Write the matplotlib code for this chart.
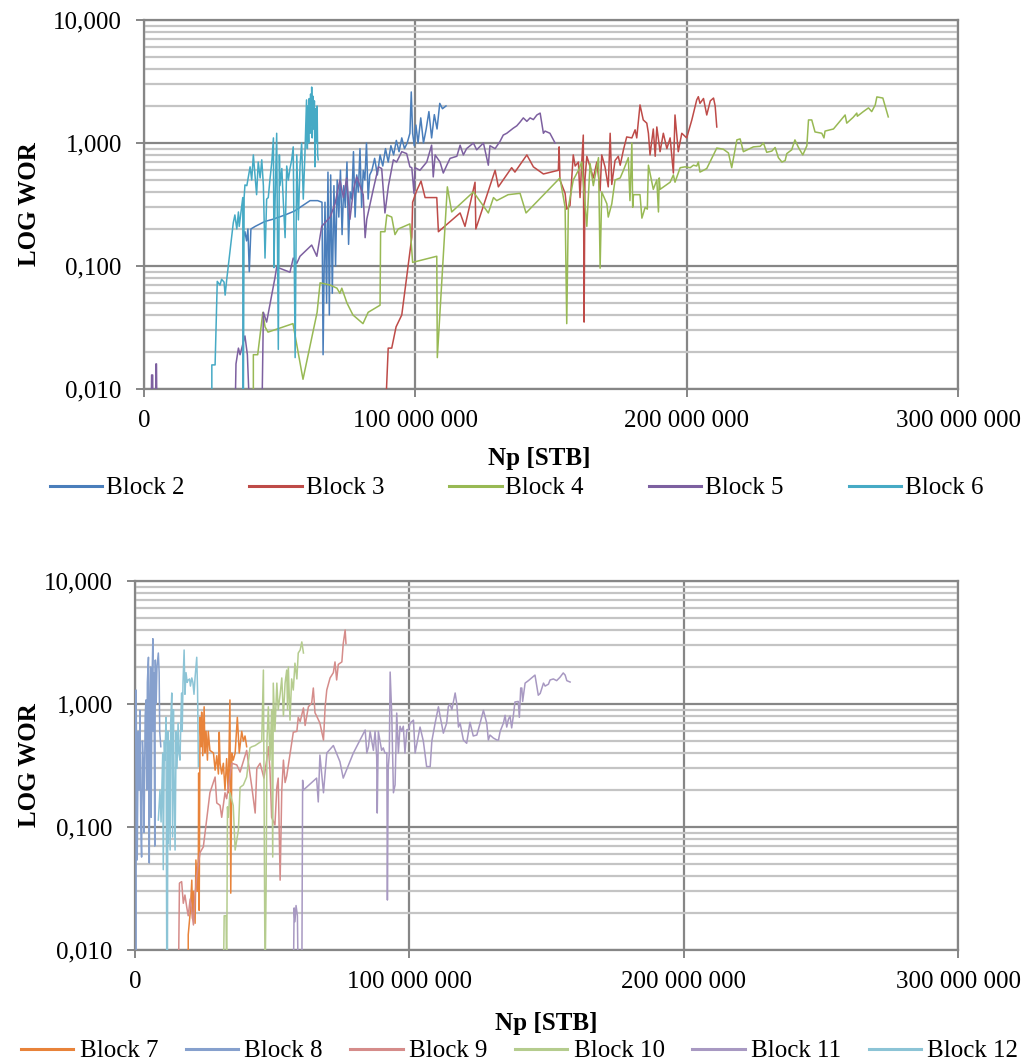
import numpy as np
import matplotlib
matplotlib.use("Agg")
import matplotlib.pyplot as plt
from matplotlib.ticker import LogLocator, FixedLocator, FuncFormatter, NullFormatter
from matplotlib.lines import Line2D

plt.rcParams["font.family"] = ["Liberation Serif", "DejaVu Serif"]

# Np in million STB, WOR values (0.005 = below axis floor)
b2_np = [36.5, 36.6, 37.2, 37.8, 38.3, 38.8, 39.4, 41.0, 44.5, 47.5, 52.0, 55.5, 61.2, 64.0, 65.6,
         66.0, 66.7, 67.3, 67.8, 68.3, 68.8, 69.4, 70.0, 70.6, 71.2, 71.8, 72.4, 73.0, 73.6, 74.2,
         74.8, 75.4, 76.0, 76.6, 77.2, 77.8, 78.4, 79.0, 79.6, 80.2, 80.8, 81.4, 82.0, 82.6, 83.2,
         84.0, 85.0, 86.0, 87.0, 88.0, 89.0, 90.0, 91.0, 92.0, 93.0, 94.0, 95.0, 96.0, 97.0, 98.0,
         98.5, 99.0, 99.6, 100.2, 101.0, 102.0, 103.0, 104.0, 105.0, 106.0, 107.0, 108.0, 109.0, 110.0, 111.3]
b2_wor = [0.005, 0.17, 0.19, 0.16, 0.20, 0.09, 0.20, 0.21, 0.23, 0.24, 0.26, 0.28, 0.34, 0.34, 0.33,
          0.019, 0.33, 0.05, 0.58, 0.04, 0.55, 0.06, 0.45, 0.10, 0.50, 0.25, 0.60, 0.18, 0.45, 0.30,
          0.70, 0.15, 0.40, 0.35, 0.85, 0.25, 0.55, 0.40, 0.90, 0.30, 0.60, 0.50, 1.00, 0.35, 0.55,
          0.60, 0.75, 0.55, 0.80, 0.65, 0.90, 0.70, 0.95, 0.80, 1.05, 0.85, 1.10, 0.90, 1.00, 1.20,
          2.6, 1.2, 0.95, 1.4, 1.0, 1.6, 1.0, 1.3, 1.8, 1.1, 1.7, 1.3, 2.1, 1.9, 2.0]

b3_np = [86.5, 88.8, 90.0, 91.3, 92.9, 95.0, 96.8, 98.7, 99.0, 100.5, 102.1, 103.6, 107.9, 108.5, 116.5,
         118.3, 122.0, 122.3, 129.4, 130.6, 135.5, 136.7, 141.1, 143.5, 147.2, 152.7, 153.0, 153.3, 155.2, 155.8,
         157.0, 158.2, 158.9, 160.1, 160.7, 161.3, 161.9, 162.2, 162.5, 163.2, 164.4, 165.6, 166.9, 168.1, 168.7,
         169.9, 171.1, 171.8, 172.4, 173.6, 174.8, 175.5, 176.7, 177.9, 179.8, 181.0, 181.6, 182.8, 184.0, 185.3,
         185.9, 186.5, 187.7, 188.4, 189.0, 190.2, 191.4, 192.7, 193.9, 195.1, 195.7, 196.9, 198.2, 200.0, 201.9,
         203.7, 204.3, 204.9, 206.2, 207.4, 208.7, 209.9, 210.5, 211.1]
b3_wor = [0.005, 0.005, 0.0215, 0.0215, 0.032, 0.04, 0.081, 0.172, 0.33, 0.41, 0.49, 0.36, 0.36, 0.19, 0.27,
          0.21, 0.48, 0.20, 0.60, 0.44, 0.63, 0.58, 0.80, 0.64, 0.56, 0.60, 0.93, 0.50, 0.39, 0.29,
          0.31, 0.80, 0.65, 0.70, 0.36, 0.68, 1.16, 0.035, 0.50, 0.78, 0.64, 0.52, 0.70, 0.41, 0.80,
          0.64, 0.44, 1.2, 0.46, 0.72, 0.78, 0.66, 0.88, 1.12, 1.1, 1.28, 1.1, 2.04, 1.54, 1.45,
          1.2, 0.8, 1.3, 0.78, 1.35, 0.85, 1.2, 0.9, 1.1, 0.57, 1.69, 0.85, 1.2, 1.1, 1.54,
          2.24, 2.38, 2.1, 2.3, 1.69, 2.2, 2.32, 2.0, 1.35]

b4_np = [40.3, 40.3, 41.9, 43.8, 44.6, 45.7, 54.9, 58.6, 63.8, 64.9, 68.6, 71.1, 72.2, 72.9, 74.8,
         77.0, 80.7, 82.6, 87.0, 87.2, 88.8, 89.5, 91.3, 92.5, 93.7, 98.0, 99.0, 107.9, 108.1, 111.8,
         113.4, 121.4, 126.9, 128.8, 130.0, 134.2, 138.6, 140.8, 153.3, 155.2, 155.8, 156.4, 158.2, 160.1, 161.3,
         163.2, 164.4, 165.6, 167.5, 168.1, 168.7, 170.6, 171.1, 172.4, 173.6, 175.5, 176.7, 178.5, 179.1, 179.8,
         180.1, 180.4, 182.8, 183.5, 184.7, 185.5, 185.9, 187.7, 189.0, 189.6, 189.9, 190.2, 193.9, 195.1, 195.7,
         197.6, 199.4, 201.3, 202.5, 203.7, 204.3, 204.9, 206.2, 207.4, 211.1, 213.5, 215.4, 216.6, 218.5, 219.7,
         220.9, 224.6, 227.1, 228.3, 229.5, 231.4, 232.6, 233.8, 235.1, 236.3, 236.9, 238.7, 239.9, 241.2, 242.8,
         244.3, 244.9, 246.1, 247.3, 249.8, 250.6, 251.0, 254.1, 258.4, 259.0, 261.4, 262.7, 262.9, 265.1, 267.0,
         268.2, 269.5, 270.1, 272.3, 274.3]
b4_wor = [0.005, 0.019, 0.019, 0.042, 0.032, 0.029, 0.034, 0.012, 0.042, 0.073, 0.07, 0.066, 0.06, 0.066, 0.05,
          0.04, 0.034, 0.042, 0.048, 0.19, 0.19, 0.26, 0.25, 0.18, 0.2, 0.22, 0.107, 0.12, 0.018, 0.44,
          0.275, 0.4, 0.27, 0.36, 0.34, 0.38, 0.39, 0.27, 0.52, 0.30, 0.034, 0.30, 0.5, 0.6, 0.7,
          0.21, 0.68, 0.45, 0.76, 0.096, 0.4, 0.32, 0.25, 0.32, 0.5, 0.52, 0.6, 0.76, 0.34, 1.0,
          0.30, 0.38, 0.38, 0.245, 0.30, 0.29, 0.66, 0.42, 0.5, 0.275, 0.52, 0.42, 0.48, 0.55, 0.48,
          0.63, 0.64, 0.63, 0.66, 0.65, 0.70, 0.58, 0.6, 0.62, 0.91, 0.89, 0.83, 0.63, 1.06, 1.08,
          0.85, 0.93, 0.94, 1.0, 0.84, 0.86, 0.92, 0.76, 0.70, 0.72, 0.82, 0.88, 1.06, 0.92, 0.80,
          0.95, 1.54, 1.54, 1.23, 1.2, 1.1, 1.25, 1.3, 1.69, 1.45, 1.62, 1.75, 1.65, 1.8, 1.93,
          1.8, 2.04, 2.37, 2.32, 1.63]

b5_np = [2.6, 2.8, 3.2, 3.3, 4.2, 4.4, 4.6, 4.8, 33.5, 33.9, 34.8, 35.4, 37.2, 38.1, 39.1,
         43.4, 44.0, 45.2, 48.3, 48.9, 53.8, 55.0, 56.3, 57.5, 61.8, 63.7, 65.5, 68.6, 70.4, 72.2,
         73.5, 74.7, 75.9, 77.2, 78.4, 80.8, 81.5, 82.1, 84.5, 86.4, 87.6, 88.8, 90.1, 91.9, 93.1,
         95.0, 96.8, 98.0, 98.7, 99.5, 99.9, 101.7, 104.2, 106.0, 106.6, 107.3, 109.1, 110.3, 111.6, 112.8,
         115.3, 116.5, 117.7, 118.9, 121.4, 122.6, 125.1, 126.9, 127.5, 129.4, 131.2, 132.4, 133.7, 136.1, 137.4,
         138.6, 139.8, 141.1, 142.3, 143.5, 144.8, 146.0, 147.2, 147.8, 149.6, 151.5]
b5_wor = [0.005, 0.013, 0.013, 0.005, 0.005, 0.016, 0.016, 0.005, 0.005, 0.016, 0.0215, 0.019, 0.027, 0.019, 0.005,
          0.005, 0.042, 0.035, 0.081, 0.098, 0.089, 0.116, 0.105, 0.12, 0.148, 0.12, 0.21, 0.25, 0.32, 0.5,
          0.36, 0.52, 0.24, 0.42, 0.53, 0.38, 0.17, 0.24, 0.42, 0.64, 0.62, 0.27, 0.45, 0.73, 0.70,
          0.85, 0.82, 0.64, 0.63, 0.39, 0.63, 0.6, 0.7, 0.96, 0.53, 0.8, 0.7, 0.57, 0.66, 0.75,
          0.78, 0.96, 0.8, 0.9, 1.0, 0.88, 1.0, 0.66, 0.95, 0.9, 1.03, 1.16, 1.2, 1.32, 1.38,
          1.48, 1.6, 1.5, 1.6, 1.55, 1.69, 1.75, 1.2, 1.25, 1.2, 1.0]

b6_np = [25.0, 25.0, 26.2, 27.0, 28.0, 28.6, 29.5, 29.9, 30.5, 32.9, 33.5, 34.2, 34.8, 35.1, 36.4,
         36.6, 36.9, 37.2, 37.9, 39.1, 39.7, 40.3, 40.9, 41.5, 42.1, 42.8, 43.4, 44.0, 44.6, 45.2,
         45.8, 46.4, 47.1, 47.7, 47.9, 48.3, 48.9, 49.5, 49.9, 50.1, 50.8, 51.3, 52.0, 52.6, 53.2,
         53.8, 54.4, 55.0, 55.7, 56.3, 56.9, 57.5, 58.1, 58.7, 59.3, 59.9, 60.2, 60.4, 60.7, 60.9,
         61.2, 61.4, 61.7, 61.8, 62.0, 62.3, 62.5, 62.8, 63.0, 63.3, 63.5, 63.8, 64.0, 64.2]
b6_wor = [0.005, 0.0157, 0.0157, 0.075, 0.07, 0.078, 0.074, 0.058, 0.078, 0.224, 0.26, 0.2, 0.275, 0.21, 0.36,
          0.005, 0.36, 0.456, 0.45, 0.64, 0.5, 0.8, 0.55, 0.38, 0.7, 0.52, 0.73, 0.45, 0.116, 0.35,
          0.36, 0.5, 0.7, 1.1, 0.097, 0.33, 1.2, 0.021, 0.8, 0.45, 0.62, 0.35, 0.17, 0.65, 0.5,
          0.62, 0.72, 0.93, 0.018, 0.8, 0.237, 0.65, 1.0, 0.35, 0.8, 2.24, 0.9, 2.0, 1.0, 2.3,
          1.2, 2.5, 1.4, 2.85, 1.1, 2.4, 1.3, 2.2, 0.64, 1.9, 1.0, 2.0, 0.8, 0.73]

b7_np = [19.4, 19.4, 20.1, 20.7, 21.0, 21.3, 21.9, 22.2, 22.7, 23.1, 23.2, 23.4, 23.7, 24.1, 24.3,
         24.7, 25.2, 25.5, 25.9, 26.4, 26.7, 27.3, 28.6, 29.2, 29.8, 30.4, 30.7, 31.0, 31.6, 32.2,
         32.8, 33.4, 34.0, 34.6, 34.9, 35.3, 35.8, 36.5, 37.3, 38.0, 38.9, 39.5, 40.1, 40.7]
b7_wor = [0.005, 0.0133, 0.02, 0.037, 0.018, 0.03, 0.0165, 0.054, 0.03, 0.062, 0.275, 0.021, 0.78, 0.45, 0.86,
          0.38, 0.95, 0.4, 0.6, 0.35, 0.6, 0.42, 0.4, 0.29, 0.38, 0.27, 0.59, 0.33, 0.27, 0.33,
          0.2, 0.36, 0.19, 1.08, 0.029, 0.4, 0.35, 0.4, 0.78, 0.4, 0.6, 0.5, 0.55, 0.45]

b8_np = [0.4, 0.4, 0.8, 1.2, 1.5, 1.8, 2.1, 2.4, 2.7, 3.0, 3.3, 3.7, 4.0, 4.3, 4.5,
         4.9, 5.0, 5.2, 5.5, 5.7, 5.9, 6.2, 6.5, 6.7, 6.9, 7.2, 7.4, 7.7, 8.0, 8.5,
         8.8, 9.0, 9.4]
b8_wor = [0.005, 1.3, 0.054, 0.6, 0.2, 0.89, 0.1, 0.057, 0.5, 0.35, 0.09, 0.8, 1.08, 0.2, 1.5,
          2.4, 0.3, 0.051, 1.2, 2.0, 0.12, 1.5, 3.4, 0.6, 1.8, 0.07, 2.28, 1.0, 2.0, 2.6,
          1.8, 0.6, 0.45]

b9_np = [15.8, 16.2, 17.0, 17.6, 18.2, 18.9, 19.4, 20.1, 21.3, 21.9, 22.5, 23.7, 24.9, 26.1, 27.3,
         29.2, 29.8, 31.0, 31.6, 32.8, 33.4, 35.3, 37.1, 38.3, 40.7, 42.6, 43.8, 44.4, 45.6, 47.0,
         48.0, 48.6, 49.2, 49.8, 51.0, 51.7, 52.2, 52.9, 53.5, 54.1, 54.7, 55.3, 57.1, 57.7, 59.0,
         59.5, 60.2, 61.4, 62.0, 63.2, 64.4, 65.0, 65.6, 66.2, 67.4, 68.7, 69.3, 69.9, 71.1, 72.3,
         72.9, 73.5, 74.1, 75.4, 75.9, 76.6, 76.9]
b9_wor = [0.005, 0.035, 0.036, 0.024, 0.028, 0.022, 0.019, 0.026, 0.016, 0.028, 0.04, 0.062, 0.069, 0.114, 0.19,
          0.255, 0.157, 0.15, 0.12, 0.19, 0.17, 0.33, 0.32, 0.28, 0.42, 0.21, 0.13, 0.3, 0.33, 0.25,
          0.35, 0.45, 0.29, 0.12, 0.104, 0.21, 0.25, 0.037, 0.2, 0.35, 0.23, 0.26, 0.48, 0.59, 0.6,
          0.78, 0.72, 0.93, 0.67, 0.95, 1.02, 1.35, 0.85, 0.8, 0.7, 0.51, 0.95, 1.3, 1.63, 1.8,
          2.2, 1.57, 2.1, 2.2, 3.1, 4.0, 3.1]

b10_np = [32.2, 32.5, 33.2, 33.4, 33.7, 34.0, 34.6, 35.8, 36.5, 37.7, 38.3, 39.5, 40.7, 41.9, 42.6,
          43.8, 45.0, 46.2, 46.8, 47.0, 47.4, 47.8, 48.1, 48.6, 49.2, 49.8, 50.2, 50.4, 51.0, 51.7,
          52.2, 52.9, 53.5, 54.1, 54.7, 55.3, 55.6, 55.9, 56.5, 57.1, 57.7, 58.3, 59.0, 59.5, 60.2,
          60.8, 61.4]
b10_wor = [0.005, 0.019, 0.019, 0.005, 0.146, 0.12, 0.19, 0.15, 0.065, 0.095, 0.21, 0.22, 0.255, 0.44, 0.45,
           0.46, 0.48, 0.5, 1.89, 0.3, 0.005, 0.035, 0.5, 0.95, 0.35, 0.9, 0.057, 1.48, 0.6, 1.48,
           0.9, 1.2, 1.63, 0.8, 1.48, 1.89, 0.9, 2.0, 0.74, 1.6, 1.3, 2.15, 1.6, 2.6, 2.75,
           3.2, 2.6]

b11_np = [57.7, 58.0, 58.3, 58.7, 59.2, 59.5, 60.8, 61.1, 61.4, 66.2, 66.8, 67.4, 68.7, 69.9, 72.3,
          74.7, 75.9, 79.6, 83.9, 84.5, 85.1, 85.7, 86.3, 86.9, 87.5, 88.1, 88.3, 88.7, 89.3, 89.9,
          90.5, 91.1, 91.8, 92.0, 92.3, 92.7, 93.0, 93.6, 94.2, 94.8, 95.4, 96.0, 96.6, 97.2, 97.8,
          98.4, 99.1, 99.6, 100.3, 101.5, 102.1, 103.9, 105.1, 106.3, 107.6, 108.2, 109.4, 110.6, 111.2, 112.4,
          113.6, 114.2, 114.8, 115.5, 116.7, 117.3, 117.9, 118.5, 119.7, 120.9, 122.1, 123.3, 124.6, 125.8, 127.0,
          128.2, 128.8, 129.4, 130.6, 131.9, 132.5, 133.1, 134.3, 134.9, 135.5, 136.1, 136.7, 137.3, 137.9, 138.5,
          139.7, 140.1, 140.6, 141.0, 141.3, 142.2, 143.4, 145.8, 147.0, 147.7, 148.9, 149.5, 150.7, 151.3, 152.5,
          153.7, 154.9, 156.1, 156.8, 157.4, 158.6]
b11_wor = [0.005, 0.022, 0.017, 0.023, 0.019, 0.005, 0.005, 0.24, 0.2, 0.25, 0.16, 0.385, 0.19, 0.4, 0.46,
           0.34, 0.25, 0.4, 0.615, 0.4, 0.45, 0.6, 0.5, 0.42, 0.6, 0.37, 0.13, 0.6, 0.5, 0.42,
           0.44, 0.4, 0.4, 0.0255, 0.3, 0.4, 1.82, 0.8, 0.19, 0.22, 0.845, 0.4, 0.66, 0.6, 0.66,
           0.4, 0.62, 0.615, 0.7, 0.74, 0.4, 0.65, 0.5, 0.31, 0.31, 0.5, 0.7, 0.95, 0.8, 0.58,
           0.7, 0.95, 1.0, 0.9, 1.23, 1.0, 0.65, 0.7, 0.51, 0.48, 0.71, 0.55, 0.56, 0.7, 0.89,
           0.7, 0.51, 0.56, 0.53, 0.51, 0.51, 0.6, 0.7, 0.81, 0.65, 0.75, 0.8, 0.64, 0.8, 1.04,
           1.05, 0.78, 1.35, 1.35, 1.05, 1.48, 1.55, 1.72, 1.18, 1.22, 1.48, 1.4, 1.45, 1.57, 1.6,
           1.55, 1.65, 1.79, 1.72, 1.55, 1.51]

b12_np = [8.5, 9.1, 9.5, 10.1, 10.3, 10.7, 10.9, 11.3, 11.6, 11.8, 12.0, 12.1, 12.4, 12.8, 13.0,
          13.4, 13.7, 14.0, 14.2, 14.6, 15.0, 15.3, 15.7, 16.0, 16.4, 16.8, 17.0, 17.2, 17.5, 17.9,
          18.2, 18.6, 19.0, 19.4, 19.9, 20.2, 20.7, 21.1, 21.5, 21.9, 22.5, 22.8, 23.1]
b12_wor = [0.114, 0.2, 0.11, 0.4, 0.045, 0.5, 0.35, 0.78, 0.005, 0.005, 0.6, 0.074, 0.5, 0.065, 0.7,
           1.23, 0.083, 0.9, 0.3, 0.065, 0.6, 0.3, 0.7, 0.4, 0.35, 0.9, 1.23, 0.6, 1.5, 2.75,
           1.2, 1.8, 1.5, 1.57, 1.6, 1.4, 1.63, 1.5, 1.2, 1.65, 2.4, 1.3, 0.31]

top_series = [("Block 2", b2_np, b2_wor, "#4A7EBB"),
              ("Block 3", b3_np, b3_wor, "#BE4B48"),
              ("Block 4", b4_np, b4_wor, "#98B954"),
              ("Block 5", b5_np, b5_wor, "#7D60A0"),
              ("Block 6", b6_np, b6_wor, "#46AAC5")]
bottom_series = [("Block 7", b7_np, b7_wor, "#E8833A"),
                 ("Block 8", b8_np, b8_wor, "#86A0CD"),
                 ("Block 9", b9_np, b9_wor, "#D58C8A"),
                 ("Block 10", b10_np, b10_wor, "#B5CC8E"),
                 ("Block 11", b11_np, b11_wor, "#A899C2"),
                 ("Block 12", b12_np, b12_wor, "#8CC4D6")]

MAJOR = "#868686"
MINOR = "#C4C4C4"
FS = 18


def fmt_y(v, pos):
    return f"{v:.3f}".replace(".", ",")


def fmt_x(v, pos):
    return f"{int(round(v)):,}".replace(",", " ")


def style_axes(ax):
    ax.set_yscale("log")
    ax.set_ylim(0.01, 10)
    ax.set_xlim(0, 300e6)
    ax.yaxis.set_major_locator(FixedLocator([0.01, 0.1, 1, 10]))
    ax.yaxis.set_minor_locator(LogLocator(base=10, subs=np.arange(2, 10)))
    ax.yaxis.set_major_formatter(FuncFormatter(fmt_y))
    ax.yaxis.set_minor_formatter(NullFormatter())
    ax.xaxis.set_major_locator(FixedLocator([0, 100e6, 200e6, 300e6]))
    ax.xaxis.set_major_formatter(FuncFormatter(fmt_x))
    ax.grid(which="major", axis="both", color=MAJOR, lw=1.6, zorder=0)
    ax.grid(which="minor", axis="y", color=MINOR, lw=1.6, zorder=0)
    ax.set_axisbelow(True)
    for s in ax.spines.values():
        s.set_color(MAJOR)
        s.set_linewidth(1.6)
    ax.tick_params(which="major", length=6, width=1.4, color=MAJOR, labelsize=FS)
    ax.tick_params(axis="y", which="major", pad=10)
    ax.tick_params(axis="x", which="major", pad=9)
    ax.tick_params(which="minor", length=0)
    ax.set_ylabel("LOG WOR", fontsize=FS, fontweight="bold")
    ax.set_xlabel("Np [STB]", fontsize=FS, fontweight="bold")


def draw(ax, series):
    handles = []
    for name, xs, ys, col in series:
        x = np.array(xs) * 1e6
        ax.plot(x, ys, color=col, lw=1.1, zorder=3)
        handles.append(Line2D([0], [0], color=col, lw=2.2, label=name))
    return handles


fig = plt.figure(figsize=(10.33, 10.64), dpi=100)
ax1 = fig.add_axes([0.1394, 0.6344, 0.788, 0.3468])
ax2 = fig.add_axes([0.1307, 0.1071, 0.7967, 0.3468])

h1 = draw(ax1, top_series)
h2 = draw(ax2, bottom_series)
style_axes(ax1)
style_axes(ax2)

ax1.yaxis.set_label_coords(-0.126, 0.5)
ax1.xaxis.set_label_coords(0.486, -0.157)
ax2.yaxis.set_label_coords(-0.114, 0.5)
ax2.xaxis.set_label_coords(0.5, -0.168)

fig.legend(handles=h1, loc="center", bbox_to_anchor=(0.5, 1 - 488 / 1064), ncol=5,
           frameon=False, fontsize=FS, handlelength=2.1, handletextpad=0.15,
           columnspacing=2.6, borderpad=0, borderaxespad=0)
fig.legend(handles=h2, loc="center", bbox_to_anchor=(0.503, 1 - 1051 / 1064), ncol=6,
           frameon=False, fontsize=FS, handlelength=2.1, handletextpad=0.25,
           columnspacing=1.1, borderpad=0, borderaxespad=0)

fig.savefig("out.png", dpi=100)
